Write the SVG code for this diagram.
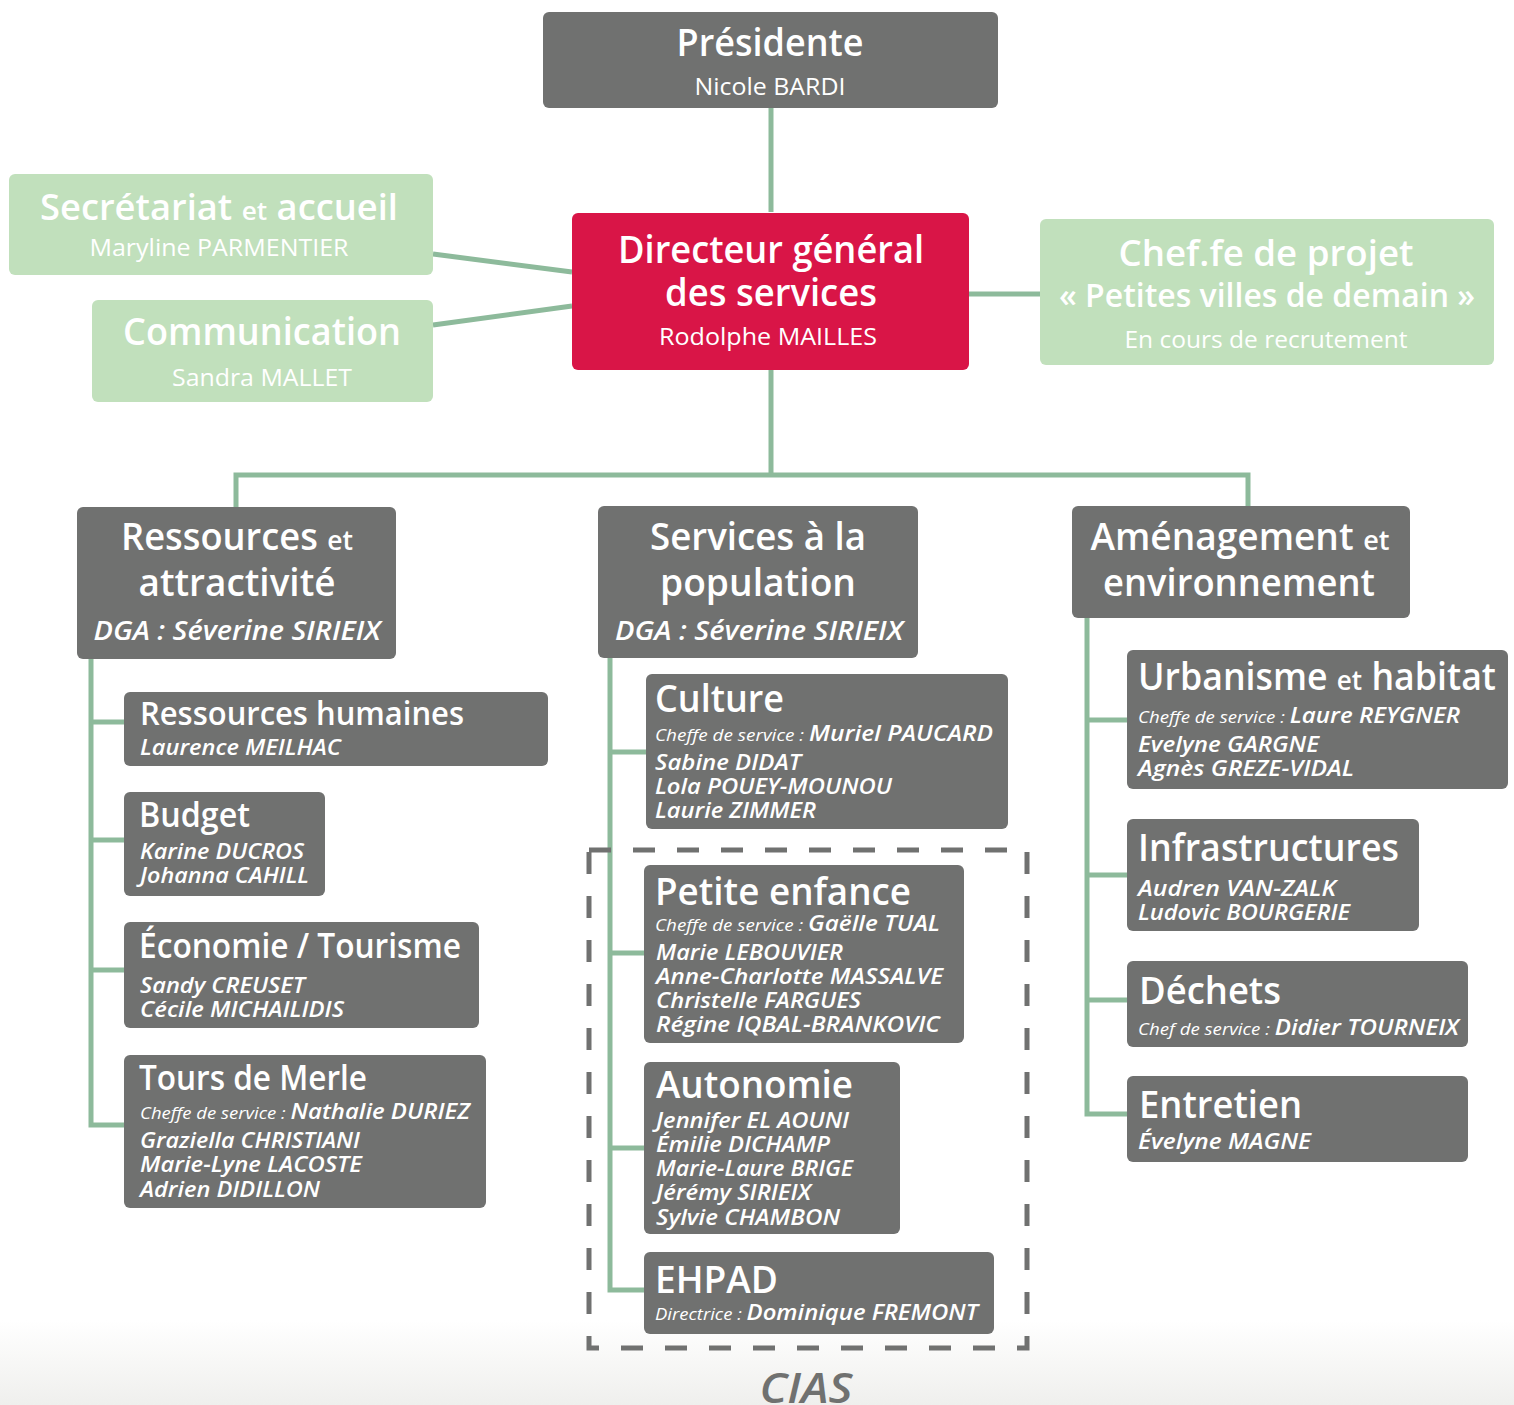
<svg xmlns="http://www.w3.org/2000/svg" width="1514" height="1405" viewBox="0 0 1514 1405">
<defs>
<linearGradient id="bg" x1="0" y1="0" x2="0" y2="1">
<stop offset="0" stop-color="#ffffff"/>
<stop offset="1" stop-color="#efefed"/>
</linearGradient>
<style>
.box{fill:#707170}
.gbox{fill:#c1e0bc}
.rbox{fill:#d91547}
text{font-family:"Open Sans","Noto Sans",sans-serif;fill:#ffffff}
.h{font-weight:600}
.r{font-weight:400}
.n{font-weight:600;font-style:italic;font-size:22px}
.s{font-weight:500;font-style:italic;font-size:17px}
.c{text-anchor:middle}
.conn{stroke:#8dba9b;stroke-width:5;fill:none}
.dash{stroke:#707170;stroke-width:5;fill:none;stroke-dasharray:22 22}
</style>
</defs>
<rect x="0" y="0" width="1514" height="1405" fill="#ffffff"/>
<rect x="0" y="1320" width="1514" height="85" fill="url(#bg)"/>

<g id="connectors">
<path class="conn" d="M771 108V212"/>
<path class="conn" d="M433 254L572 272"/>
<path class="conn" d="M433 325L572 306"/>
<path class="conn" d="M969 294H1040"/>
<path class="conn" d="M771 370V475"/>
<path class="conn" d="M236 507V475H1248V507"/>
<path class="conn" d="M91 659V1125H124M91 722H124M91 840H124M91 970H124"/>
<path class="conn" d="M610 658V1290H644M610 752H646M610 953H644M610 1148H644"/>
<path class="conn" d="M1087 618V1114H1127M1087 720H1127M1087 875H1127M1087 1000H1127"/>
</g>

<g id="cias">
<rect class="dash" x="589" y="850" width="438" height="498"/>
<text x="806" y="1403" class="c" style="font-weight:600;font-style:italic;font-size:42px;fill:#707170" textLength="93" lengthAdjust="spacingAndGlyphs">CIAS</text>
</g>

<g id="presidente">
<rect class="box" x="543" y="12" width="455" height="96" rx="6"/>
<text x="770" y="56" class="h c" font-size="37" textLength="187" lengthAdjust="spacingAndGlyphs">Présidente</text>
<text x="770" y="95" class="r c" font-size="24" textLength="151" lengthAdjust="spacingAndGlyphs">Nicole BARDI</text>
</g>

<g id="dgs">
<rect class="rbox" x="572" y="213" width="397" height="157" rx="6"/>
<text x="771" y="263" class="h c" font-size="37" textLength="306" lengthAdjust="spacingAndGlyphs">Directeur général</text>
<text x="771" y="306" class="h c" font-size="37" textLength="212" lengthAdjust="spacingAndGlyphs">des services</text>
<text x="768" y="345" class="r c" font-size="24" textLength="218" lengthAdjust="spacingAndGlyphs">Rodolphe MAILLES</text>
</g>

<g id="secretariat">
<rect class="gbox" x="9" y="174" width="424" height="101" rx="6"/>
<text x="219" y="220" class="h c" font-size="36" textLength="358" lengthAdjust="spacingAndGlyphs">Secrétariat <tspan font-size="26">et</tspan> accueil</text>
<text x="219" y="256" class="r c" font-size="24" textLength="259" lengthAdjust="spacingAndGlyphs">Maryline PARMENTIER</text>
</g>

<g id="communication">
<rect class="gbox" x="92" y="300" width="341" height="102" rx="6"/>
<text x="262" y="345" class="h c" font-size="37" textLength="278" lengthAdjust="spacingAndGlyphs">Communication</text>
<text x="262" y="386" class="r c" font-size="24" textLength="180" lengthAdjust="spacingAndGlyphs">Sandra MALLET</text>
</g>

<g id="chef-projet">
<rect class="gbox" x="1040" y="219" width="454" height="146" rx="6"/>
<text x="1266" y="266" class="h c" font-size="36" textLength="295" lengthAdjust="spacingAndGlyphs">Chef.fe de projet</text>
<text x="1267" y="307" class="h c" font-size="32" textLength="416" lengthAdjust="spacingAndGlyphs">« Petites villes de demain »</text>
<text x="1266" y="348" class="r c" font-size="24" textLength="283" lengthAdjust="spacingAndGlyphs">En cours de recrutement</text>
</g>

<g id="ressources">
<rect class="box" x="77" y="507" width="319" height="152" rx="6"/>
<text x="237" y="550" class="h c" font-size="37" textLength="232" lengthAdjust="spacingAndGlyphs">Ressources <tspan font-size="27">et</tspan></text>
<text x="237" y="596" class="h c" font-size="37" textLength="197" lengthAdjust="spacingAndGlyphs">attractivité</text>
<text x="237" y="640" class="h c" font-size="27" font-style="italic" textLength="287" lengthAdjust="spacingAndGlyphs">DGA : Séverine SIRIEIX</text>
</g>

<g id="services">
<rect class="box" x="598" y="506" width="320" height="152" rx="6"/>
<text x="758" y="550" class="h c" font-size="37" textLength="216" lengthAdjust="spacingAndGlyphs">Services à la</text>
<text x="758" y="596" class="h c" font-size="37" textLength="196" lengthAdjust="spacingAndGlyphs">population</text>
<text x="759" y="640" class="h c" font-size="27" font-style="italic" textLength="288" lengthAdjust="spacingAndGlyphs">DGA : Séverine SIRIEIX</text>
</g>

<g id="amenagement">
<rect class="box" x="1072" y="506" width="338" height="112" rx="6"/>
<text x="1240" y="550" class="h c" font-size="37" textLength="299" lengthAdjust="spacingAndGlyphs">Aménagement <tspan font-size="27">et</tspan></text>
<text x="1239" y="596" class="h c" font-size="37" textLength="272" lengthAdjust="spacingAndGlyphs">environnement</text>
</g>

<g id="rh">
<rect class="box" x="124" y="692" width="424" height="74" rx="6"/>
<text x="140" y="725" class="h" font-size="32" textLength="324" lengthAdjust="spacingAndGlyphs">Ressources humaines</text>
<text x="140" y="755" class="n" textLength="201" lengthAdjust="spacingAndGlyphs">Laurence MEILHAC</text>
</g>

<g id="budget">
<rect class="box" x="124" y="792" width="201" height="104" rx="6"/>
<text x="139" y="827" class="h" font-size="34" textLength="111" lengthAdjust="spacingAndGlyphs">Budget</text>
<text x="140" y="859" class="n" textLength="164" lengthAdjust="spacingAndGlyphs">Karine DUCROS</text>
<text x="140" y="883" class="n" textLength="169" lengthAdjust="spacingAndGlyphs">Johanna CAHILL</text>
</g>

<g id="economie">
<rect class="box" x="124" y="922" width="355" height="106" rx="6"/>
<text x="139" y="958" class="h" font-size="34" textLength="322" lengthAdjust="spacingAndGlyphs">Économie / Tourisme</text>
<text x="140" y="993" class="n" textLength="165" lengthAdjust="spacingAndGlyphs">Sandy CREUSET</text>
<text x="140" y="1017" class="n" textLength="204" lengthAdjust="spacingAndGlyphs">Cécile MICHAILIDIS</text>
</g>

<g id="tours-de-merle">
<rect class="box" x="124" y="1055" width="362" height="153" rx="6"/>
<text x="139" y="1090" class="h" font-size="34" textLength="228" lengthAdjust="spacingAndGlyphs">Tours de Merle</text>
<text x="140" y="1119" class="n" textLength="330" lengthAdjust="spacingAndGlyphs"><tspan class="s">Cheffe de service : </tspan>Nathalie DURIEZ</text>
<text x="140" y="1148" class="n" textLength="220" lengthAdjust="spacingAndGlyphs">Graziella CHRISTIANI</text>
<text x="140" y="1172" class="n" textLength="222" lengthAdjust="spacingAndGlyphs">Marie-Lyne LACOSTE</text>
<text x="140" y="1197" class="n" textLength="180" lengthAdjust="spacingAndGlyphs">Adrien DIDILLON</text>
</g>

<g id="culture">
<rect class="box" x="646" y="674" width="362" height="155" rx="6"/>
<text x="655" y="712" class="h" font-size="37" textLength="129" lengthAdjust="spacingAndGlyphs">Culture</text>
<text x="655" y="741" class="n" textLength="338" lengthAdjust="spacingAndGlyphs"><tspan class="s">Cheffe de service : </tspan>Muriel PAUCARD</text>
<text x="655" y="770" class="n" textLength="146" lengthAdjust="spacingAndGlyphs">Sabine DIDAT</text>
<text x="655" y="794" class="n" textLength="237" lengthAdjust="spacingAndGlyphs">Lola POUEY-MOUNOU</text>
<text x="655" y="818" class="n" textLength="161" lengthAdjust="spacingAndGlyphs">Laurie ZIMMER</text>
</g>

<g id="petite-enfance">
<rect class="box" x="644" y="865" width="320" height="178" rx="6"/>
<text x="655" y="905" class="h" font-size="37" textLength="256" lengthAdjust="spacingAndGlyphs">Petite enfance</text>
<text x="655" y="931" class="n" textLength="285" lengthAdjust="spacingAndGlyphs"><tspan class="s">Cheffe de service : </tspan>Gaëlle TUAL</text>
<text x="656" y="960" class="n" textLength="187" lengthAdjust="spacingAndGlyphs">Marie LEBOUVIER</text>
<text x="656" y="984" class="n" textLength="287" lengthAdjust="spacingAndGlyphs">Anne-Charlotte MASSALVE</text>
<text x="656" y="1008" class="n" textLength="205" lengthAdjust="spacingAndGlyphs">Christelle FARGUES</text>
<text x="656" y="1032" class="n" textLength="284" lengthAdjust="spacingAndGlyphs">Régine IQBAL-BRANKOVIC</text>
</g>

<g id="autonomie">
<rect class="box" x="644" y="1062" width="256" height="172" rx="6"/>
<text x="656" y="1098" class="h" font-size="37" textLength="197" lengthAdjust="spacingAndGlyphs">Autonomie</text>
<text x="656" y="1128" class="n" textLength="193" lengthAdjust="spacingAndGlyphs">Jennifer EL AOUNI</text>
<text x="656" y="1152" class="n" textLength="174" lengthAdjust="spacingAndGlyphs">Émilie DICHAMP</text>
<text x="656" y="1176" class="n" textLength="197" lengthAdjust="spacingAndGlyphs">Marie-Laure BRIGE</text>
<text x="656" y="1200" class="n" textLength="155" lengthAdjust="spacingAndGlyphs">Jérémy SIRIEIX</text>
<text x="656" y="1225" class="n" textLength="184" lengthAdjust="spacingAndGlyphs">Sylvie CHAMBON</text>
</g>

<g id="ehpad">
<rect class="box" x="644" y="1252" width="350" height="82" rx="6"/>
<text x="655" y="1293" class="h" font-size="37" textLength="123" lengthAdjust="spacingAndGlyphs">EHPAD</text>
<text x="655" y="1320" class="n" textLength="323" lengthAdjust="spacingAndGlyphs"><tspan class="s">Directrice : </tspan>Dominique FREMONT</text>
</g>

<g id="urbanisme">
<rect class="box" x="1127" y="650" width="381" height="139" rx="6"/>
<text x="1138" y="690" class="h" font-size="37" textLength="358" lengthAdjust="spacingAndGlyphs">Urbanisme <tspan font-size="27">et</tspan> habitat</text>
<text x="1138" y="723" class="n" textLength="322" lengthAdjust="spacingAndGlyphs"><tspan class="s">Cheffe de service : </tspan>Laure REYGNER</text>
<text x="1138" y="752" class="n" textLength="181" lengthAdjust="spacingAndGlyphs">Evelyne GARGNE</text>
<text x="1138" y="776" class="n" textLength="216" lengthAdjust="spacingAndGlyphs">Agnès GREZE-VIDAL</text>
</g>

<g id="infrastructures">
<rect class="box" x="1127" y="819" width="292" height="112" rx="6"/>
<text x="1138" y="861" class="h" font-size="37" textLength="261" lengthAdjust="spacingAndGlyphs">Infrastructures</text>
<text x="1138" y="896" class="n" textLength="198" lengthAdjust="spacingAndGlyphs">Audren VAN-ZALK</text>
<text x="1138" y="920" class="n" textLength="212" lengthAdjust="spacingAndGlyphs">Ludovic BOURGERIE</text>
</g>

<g id="dechets">
<rect class="box" x="1127" y="961" width="341" height="86" rx="6"/>
<text x="1139" y="1004" class="h" font-size="37" textLength="142" lengthAdjust="spacingAndGlyphs">Déchets</text>
<text x="1138" y="1035" class="n" textLength="321" lengthAdjust="spacingAndGlyphs"><tspan class="s">Chef de service : </tspan>Didier TOURNEIX</text>
</g>

<g id="entretien">
<rect class="box" x="1127" y="1076" width="341" height="86" rx="6"/>
<text x="1139" y="1118" class="h" font-size="37" textLength="163" lengthAdjust="spacingAndGlyphs">Entretien</text>
<text x="1138" y="1149" class="n" textLength="173" lengthAdjust="spacingAndGlyphs">Évelyne MAGNE</text>
</g>
</svg>
